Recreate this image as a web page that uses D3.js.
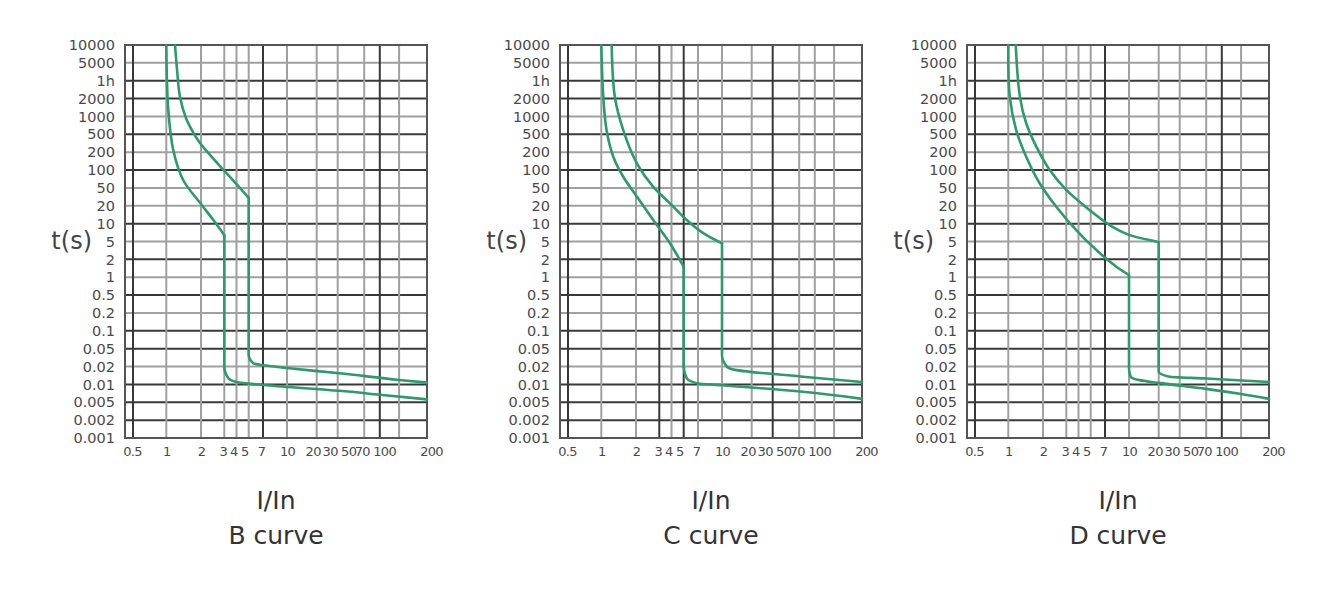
<!DOCTYPE html>
<html>
<head>
<meta charset="utf-8">
<script src="https://cdnjs.cloudflare.com/ajax/libs/d3/7.8.5/d3.min.js"></script>
<style>
body { margin: 0; background: #fff; }
text { font-family: "DejaVu Sans", sans-serif; }
</style>
</head>
<body>
<div id="chart"></div>
<script>
// tick values of the (non uniform) grid
var yTicks = [10000, 5000, 3600, 2000, 1000, 500, 200, 100, 50, 20, 10, 5, 2, 1, 0.5, 0.2, 0.1, 0.05, 0.02, 0.01, 0.005, 0.002, 0.001];
var yLabels = ['10000', '5000', '1h', '2000', '1000', '500', '200', '100', '50', '20', '10', '5', '2', '1', '0.5', '0.2', '0.1', '0.05', '0.02', '0.01', '0.005', '0.002', '0.001'];
var xTicks = [0.5, 1, 2, 3, 4, 5, 7, 10, 20, 30, 50, 70, 100, 200];
var xLabels = ['0.5', '1', '2', '3', '4', '5', '7', '10', '20', '30', '50', '70', '100', '200'];
var curveNames = ['B curve', 'C curve', 'D curve'];

// curves: [I/In, t(s)]
var bLow = [[1.0, 10000], [1.04, 1300], [1.15, 220], [1.4, 68], [1.97, 23], [2.48, 11.5], [3, 6.4], [3, 0.02], [3.3, 0.0127], [4, 0.011], [7.4, 0.0097], [31, 0.0078], [70, 0.0067], [200, 0.0056]];
var bHigh = [[1.19, 10000], [1.24, 4400], [1.31, 2180], [1.48, 940], [1.7, 550], [1.96, 320], [2.34, 180], [2.87, 108], [3.86, 62], [5, 30], [5, 0.036], [5.57, 0.0236], [7, 0.0213], [10, 0.0189], [31, 0.0154], [100, 0.0119], [200, 0.0107]];
var cLow = [[1.0, 10000], [1.04, 2130], [1.11, 590], [1.27, 168], [1.55, 77], [2.03, 32], [2.7, 11.5], [3.86, 4.56], [5, 1.5], [5, 0.02], [5.37, 0.0127], [7, 0.0104], [10, 0.0097], [54, 0.0075], [200, 0.0057]];
var cHigh = [[1.23, 10000], [1.31, 2130], [1.55, 590], [2.03, 130], [2.7, 52], [3.86, 22.7], [5.37, 11.5], [7.57, 6.9], [10, 4.56], [10, 0.036], [11.2, 0.02], [14.1, 0.0174], [54, 0.0135], [200, 0.011]];
var dLow = [[1.0, 10000], [1.03, 2130], [1.17, 590], [1.43, 168], [1.87, 60], [2.52, 19.3], [3.79, 7.8], [5.72, 3.22], [8.29, 1.5], [10, 1.09], [10, 0.0186], [10.4, 0.0135], [12.8, 0.0118], [20, 0.0106], [50, 0.0084], [100, 0.0069], [200, 0.0057]];
var dHigh = [[1.16, 10000], [1.26, 2130], [1.43, 768], [1.75, 266], [2.25, 100], [3.0, 45], [4.9, 16.9], [7.5, 9.46], [10.2, 6.4], [18.9, 5], [20, 4.8], [20, 0.0164], [24.7, 0.0135], [50, 0.0126], [200, 0.011]];
var curveSets = [[bLow, bHigh], [cLow, cHigh], [dLow, dHigh]];

// layout
var width = 1342, height = 602;
var plotTop = 45, plotH = 393, plotW = 302;
var lefts = [125, 560, 967];
// where each x tick sits inside the plot (px from left edge), as drawn in the original
var xPos = [8, 41.3, 76, 99.3, 111.5, 123.7, 138, 162, 191.7, 212.7, 239.2, 254.8, 274.1, 302];
// the original squeezes the x labels a bit off their lines
var xLabelShift = [-1, 0, 0, -1.5, -3.3, -4.5, -2, 0, -4, -8, -16, -18, -15, 4];
var xDark = [[0.5, 7, 70], [0.5, 3, 5, 30], [0.5, 7, 70]];
var yDark = [3600, 2000, 500, 100, 10, 2, 0.5, 0.1, 0.05, 0.01, 0.005, 0.002];
var green = '#2b9c69';

var svg = d3.select('#chart')
    .append('svg')
    .attr('width', width)
    .attr('height', height);

curveNames.forEach(function(name, p) {
    var left = lefts[p];
    var g = svg.append('g');

    var x = d3.scaleLog()
        .domain(xTicks)
        .range(xPos.map(function(d) { return left + d * plotW / 302; }));
    var y = d3.scaleLog()
        .domain(yTicks)
        .range(yTicks.map(function(d, i) { return plotTop + i * plotH / (yTicks.length - 1); }));

    var isDarkX = function(d) { return xDark[p].indexOf(d) >= 0; };
    var isDarkY = function(d) { return yDark.indexOf(d) >= 0; };

    //grid: light lines first, dark on top
    var grid = g.append('g');
    grid.selectAll('line.hy')
        .data(yTicks.slice().sort(function(a, b) { return isDarkY(a) - isDarkY(b); }))
        .enter()
        .append('line')
        .attr('x1', left).attr('x2', left + plotW)
        .attr('y1', function(d) { return y(d); })
        .attr('y2', function(d) { return y(d); })
        .attr('stroke', function(d) { return isDarkY(d) ? '#383838' : '#a0a0a0'; })
        .attr('stroke-width', 2);
    grid.selectAll('line.vx')
        .data(xTicks.slice().sort(function(a, b) { return isDarkX(a) - isDarkX(b); }))
        .enter()
        .append('line')
        .attr('y1', plotTop).attr('y2', plotTop + plotH)
        .attr('x1', function(d) { return x(d); })
        .attr('x2', function(d) { return x(d); })
        .attr('stroke', function(d) { return isDarkX(d) ? '#383838' : '#a0a0a0'; })
        .attr('stroke-width', 2);

    g.append('rect')
        .attr('x', left).attr('y', plotTop)
        .attr('width', plotW).attr('height', plotH)
        .attr('fill', 'none')
        .attr('stroke', '#555')
        .attr('stroke-width', 2);

    //axes (labels only)
    var yAxis = d3.axisLeft(y)
        .tickValues(yTicks)
        .tickFormat(function(d, i) { return yLabels[i]; })
        .tickSize(0)
        .tickPadding(10);
    var xAxis = d3.axisBottom(x)
        .tickValues(xTicks)
        .tickFormat(function(d, i) { return xLabels[i]; })
        .tickSize(0)
        .tickPadding(9);

    var ya = g.append('g').attr('transform', 'translate(' + left + ',0)').call(yAxis);
    var xa = g.append('g').attr('transform', 'translate(0,' + (plotTop + plotH) + ')').call(xAxis);
    [ya, xa].forEach(function(a) {
        a.select('.domain').remove();
        a.selectAll('text')
            .attr('font-family', '"Liberation Sans", Arial, sans-serif')
            .attr('font-size', 14.5)
            .attr('fill', '#4a4a4a');
    });
    xa.selectAll('.tick text')
        .attr('font-size', 13)
        .attr('letter-spacing', '-0.7px')
        .attr('dx', function(d) { return xLabelShift[xTicks.indexOf(d)]; });

    //curves: smooth part down to the knee, then the vertical drop and tail
    var smooth = d3.line()
        .x(function(d) { return x(d[0]); })
        .y(function(d) { return y(d[1]); })
        .curve(d3.curveCatmullRom.alpha(0.5));
    var drop = d3.line()
        .x(function(d) { return x(d[0]); })
        .y(function(d) { return y(d[1]); })
        .curve(d3.curveMonotoneY);

    curveSets[p].forEach(function(c) {
        var k = 0;
        while (k < c.length - 1 && c[k][0] !== c[k + 1][0]) k++;
        [smooth(c.slice(0, k + 1)), drop(c.slice(k))].forEach(function(dpath) {
            g.append('path')
                .attr('d', dpath)
                .attr('fill', 'none')
                .attr('stroke', green)
                .attr('stroke-width', 2.6)
                .attr('stroke-linejoin', 'round')
                .attr('stroke-linecap', 'round');
        });
    });

    //titles
    g.append('text')
        .attr('x', left - 33)
        .attr('y', 249)
        .attr('text-anchor', 'end')
        .attr('font-size', 24)
        .attr('fill', '#444')
        .text('t(s)');
    g.append('text')
        .attr('x', left + plotW / 2)
        .attr('y', 509)
        .attr('text-anchor', 'middle')
        .attr('font-size', 25)
        .attr('fill', '#333')
        .text('I/In');
    g.append('text')
        .attr('x', left + plotW / 2)
        .attr('y', 544)
        .attr('text-anchor', 'middle')
        .attr('font-size', 25)
        .attr('fill', '#333')
        .text(name);
});
</script>
</body>
</html>
